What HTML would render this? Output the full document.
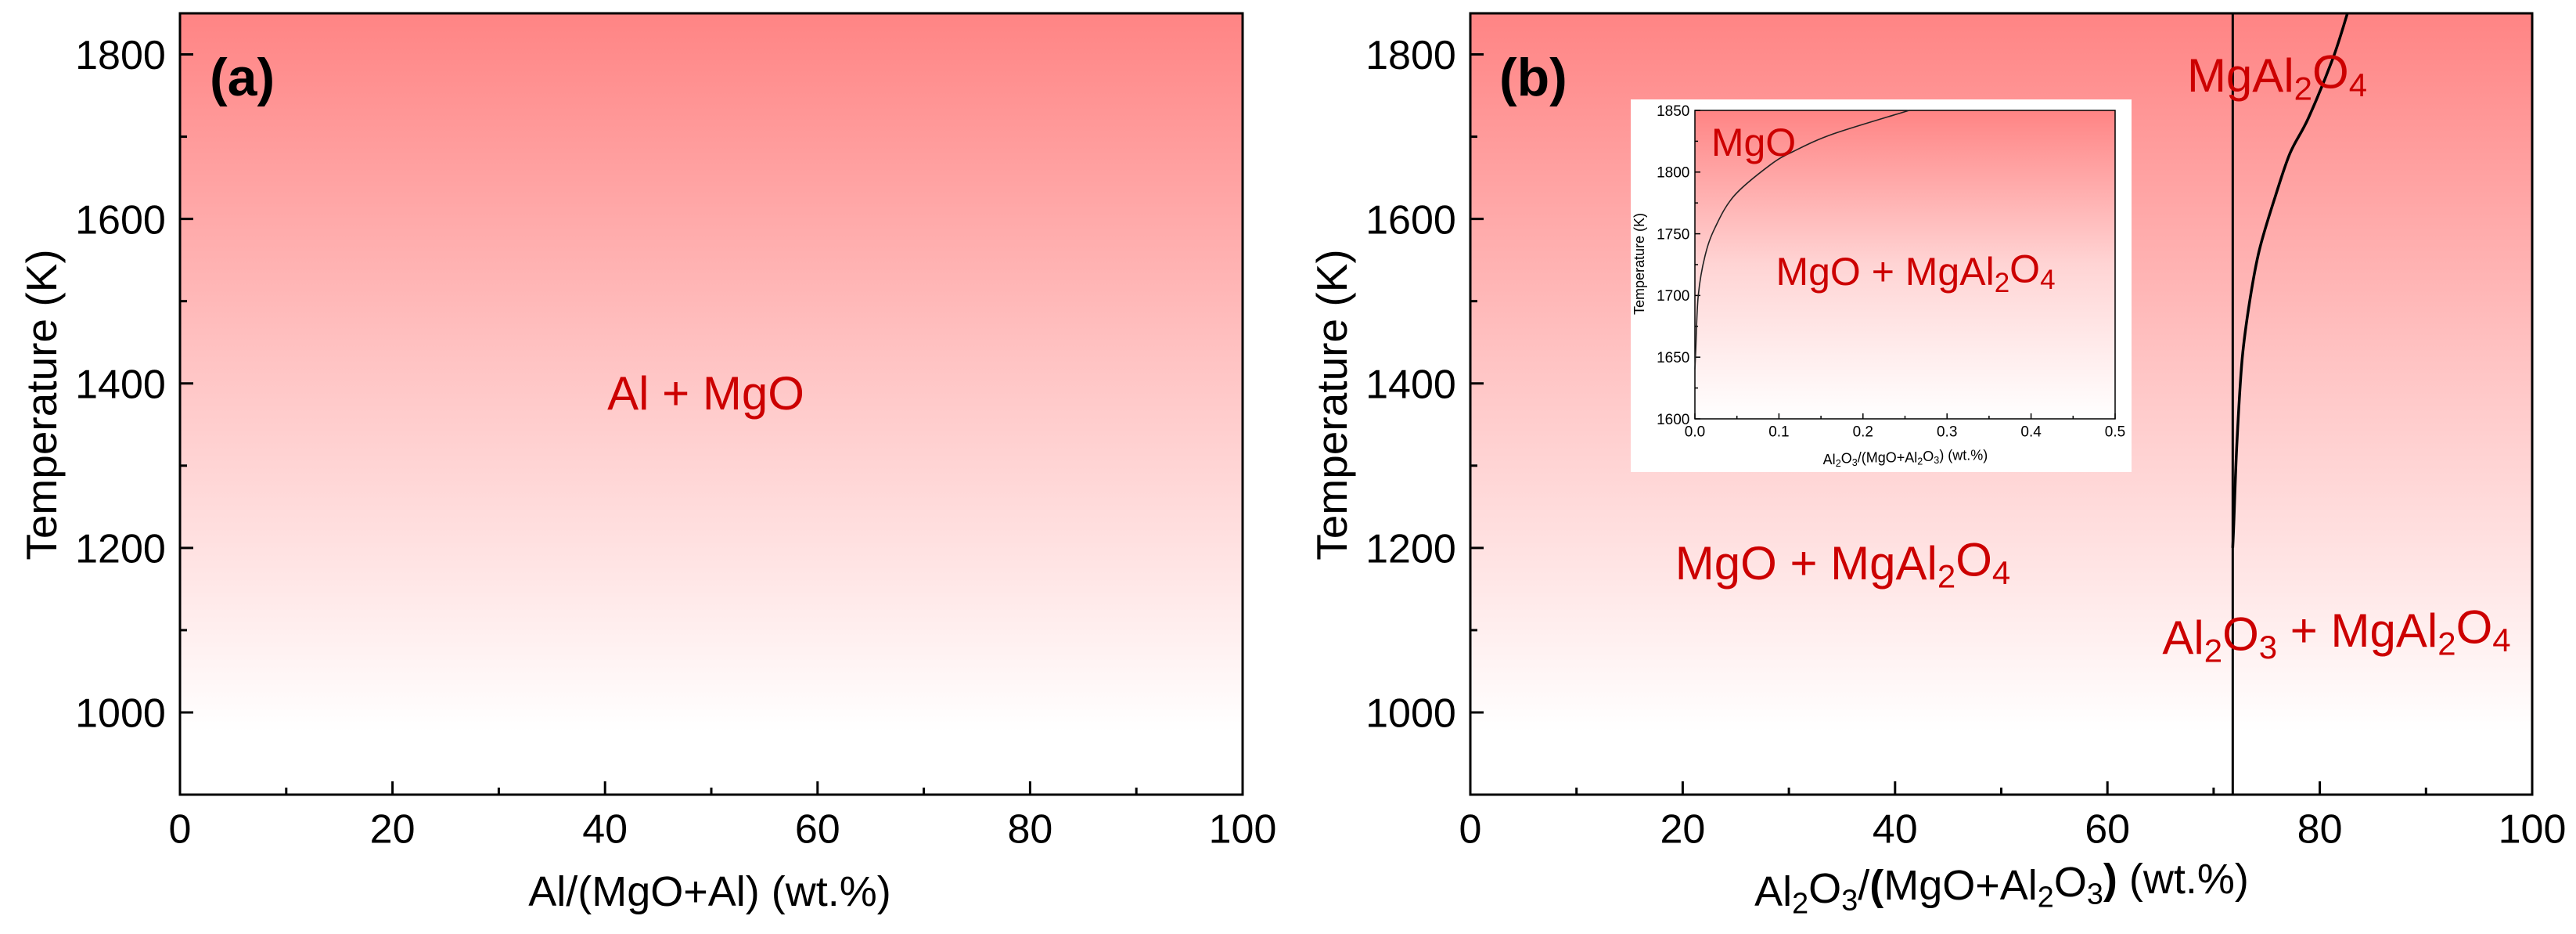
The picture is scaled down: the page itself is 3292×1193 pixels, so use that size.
<!DOCTYPE html>
<html><head><meta charset="utf-8"><style>
html,body{margin:0;padding:0;background:#fff}
svg{display:block;font-family:"Liberation Sans",Arial,sans-serif}
</style></head><body>
<svg id="fig" width="3292" height="1193" viewBox="0 0 3292 1193" xmlns="http://www.w3.org/2000/svg">
<defs>
<linearGradient id="bg" x1="0" y1="0" x2="0" y2="1">
<stop offset="0" stop-color="#ff8484"/><stop offset="0.45" stop-color="#ffc4c4"/><stop offset="0.92" stop-color="#ffffff"/><stop offset="1" stop-color="#ffffff"/>
</linearGradient>
<linearGradient id="bg2" x1="0" y1="0" x2="0" y2="1">
<stop offset="0" stop-color="#ff8484"/><stop offset="0.5" stop-color="#ffd4d4"/><stop offset="1" stop-color="#ffffff"/>
</linearGradient>
</defs>
<g id="layer"></g>
</svg>
<script>
const xTicks=[0,20,40,60,80,100];
const yTicks=[1000,1200,1400,1600,1800];
const liquidusX=[71.8,71.9,72.2,72.7,73.4,74.3,75.8,77.2,78.9,81.2,82.6];
const liquidusT=[1200,1230,1330,1431,1500,1562,1627,1680,1722,1794,1850];
const spinelX=71.8;
const insetXTicks=[0,0.1,0.2,0.3,0.4,0.5];
const insetYTicks=[1600,1650,1700,1750,1800,1850];
const insetCurveX=[0,0.001,0.004,0.012,0.024,0.047,0.09,0.118,0.165,0.255];
const insetCurveT=[1640,1656,1700,1732,1755,1781,1806,1817,1831,1850];

const NS="http://www.w3.org/2000/svg";
const root=document.getElementById('layer');
function mk(tag,attrs,parent){const e=document.createElementNS(NS,tag);for(const k in attrs)e.setAttribute(k,attrs[k]);(parent||root).appendChild(e);return e;}
function smooth(pts){
  let d='M'+pts[0][0].toFixed(1)+' '+pts[0][1].toFixed(1);
  for(let i=0;i<pts.length-1;i++){
    const p0=pts[Math.max(0,i-1)],p1=pts[i],p2=pts[i+1],p3=pts[Math.min(pts.length-1,i+2)];
    const c1=[p1[0]+(p2[0]-p0[0])/6,p1[1]+(p2[1]-p0[1])/6];
    const c2=[p2[0]-(p3[0]-p1[0])/6,p2[1]-(p3[1]-p1[1])/6];
    d+='C'+c1[0].toFixed(1)+' '+c1[1].toFixed(1)+' '+c2[0].toFixed(1)+' '+c2[1].toFixed(1)+' '+p2[0].toFixed(1)+' '+p2[1].toFixed(1);
  }
  return d;
}

function panel(L,R,T,B,xmin,xmax,ymin,ymax,xt,yt,id,fs,majL,minL,sw,xfmt,yfmt,xminor,yminor,grad){
  const sx=v=>L+(v-xmin)/(xmax-xmin)*(R-L);
  const sy=v=>B-(v-ymin)/(ymax-ymin)*(B-T);
  const g=mk('g',{});
  
  
  const bg=mk('rect',{x:L,y:T,width:R-L,height:B-T,fill:'url(#'+grad+')'},g);
  
  
  for(let i=0;i<xt.length;i++){
    const x=sx(xt[i]);
    const t=mk('line',{x1:x,x2:x,y1:B,y2:B-majL,stroke:'#000','stroke-width':sw},g);
    
    
    const lb=mk('text',{x:x,y:B+fs*1.18,'font-size':fs,'text-anchor':'middle',fill:'#000'},g);
    lb.textContent=xfmt(xt[i]);
    
    
    if(i<xt.length-1){const xm=sx((xt[i]+xt[i+1])/2);
      const m=mk('line',{x1:xm,x2:xm,y1:B,y2:B-minL,stroke:'#000','stroke-width':sw},g);
      
      }
  }
  for(let i=0;i<yt.length;i++){
    const y=sy(yt[i]);
    const t=mk('line',{x1:L,x2:L+majL,y1:y,y2:y,stroke:'#000','stroke-width':sw},g);
    
    
    const lb=mk('text',{x:L-fs*0.35,y:y+fs*0.36,'font-size':fs,'text-anchor':'end',fill:'#000'},g);
    lb.textContent=yfmt(yt[i]);
    
    
  }
  for(const v of yminor){const y=sy(v);
    const m=mk('line',{x1:L,x2:L+minL,y1:y,y2:y,stroke:'#000','stroke-width':sw},g);
    
    }
  const fr=mk('rect',{x:L,y:T,width:R-L,height:B-T,fill:'none',stroke:'#000','stroke-width':sw},g);
  
  
  return {sx,sy,g};
}
function txt(x,y,fs,html,name,extra){
  const t=mk('text',Object.assign({x:x,y:y,'font-size':fs,fill:'#cc0000','text-anchor':'middle'},extra||{}));
  t.innerHTML=html;
  
  
  return t;
}
const sub=(s)=>'<tspan dy="0.25em" font-size="0.7em">'+s+'</tspan><tspan dy="-0.25em">\u200B</tspan>';

const yMin=[900,1100,1300,1500,1700];
const A=panel(230,1588,17,1015,0,100,900,1850,xTicks,yTicks,'panel-a',52,17,9,3,v=>v,v=>v,[],yMin,'bg');
const Bp=panel(1879,3236,17,1015,0,100,900,1850,xTicks,yTicks,'panel-b',52,17,9,3,v=>v,v=>v,[],yMin,'bg');

const vl=mk('line',{x1:Bp.sx(spinelX),x2:Bp.sx(spinelX),y1:Bp.sy(1850),y2:Bp.sy(900),stroke:'#000','stroke-width':3});


const mainPts=liquidusX.map((v,i)=>[Bp.sx(v),Bp.sy(liquidusT[i])]);
const cv=mk('path',{d:smooth(mainPts),fill:'none',stroke:'#000','stroke-width':3.5});



function axT(x,y,fs,html,name,rot){const t=mk('text',{x:x,y:y,'font-size':fs,'text-anchor':'middle',fill:'#000',transform:rot?('rotate(-90 '+x+' '+y+')'):''});t.innerHTML=html;return t;}
axT(907,1157,54,'Al/(MgO+Al) (wt.%)','panel-a-x-axis-title');
axT(2558,1157,54,'Al'+sub('2')+'O'+sub('3')+'/<tspan font-weight="bold">(</tspan>MgO+Al'+sub('2')+'O'+sub('3')+'<tspan font-weight="bold">)</tspan> (wt.%)','panel-b-x-axis-title');
axT(72,517,55,'Temperature (K)','panel-a-y-axis-title',true);
axT(1721,517,55,'Temperature (K)','panel-b-y-axis-title',true);

const ta=mk('text',{x:268,y:122,'font-size':68,'font-weight':'bold',fill:'#000'});ta.textContent='(a)';

const tb=mk('text',{x:1916,y:122,'font-size':68,'font-weight':'bold',fill:'#000'});tb.textContent='(b)';


txt(902,523,60,'Al + MgO','region-label-al-mgo');
txt(2910,117,60,'MgAl'+sub('2')+'O'+sub('4'),'region-label-spinel');
txt(2355,740,60,'MgO + MgAl'+sub('2')+'O'+sub('4'),'region-label-mgo-spinel');
txt(2986,835,60,'Al'+sub('2')+'O'+sub('3')+' + MgAl'+sub('2')+'O'+sub('4'),'region-label-alumina-spinel');

const ib=mk('rect',{x:2084,y:127,width:640,height:476,fill:'#fff'});

const I=panel(2166,2703,141,535,0,0.5,1600,1850,insetXTicks,insetYTicks,'inset',19,7,4,1.5,v=>v.toFixed(1),v=>v,[],[1625,1675,1725,1775,1825],'bg2');
const insetPts=insetCurveX.map((v,i)=>[I.sx(v),I.sy(insetCurveT[i])]);
const ic=mk('path',{d:smooth(insetPts),fill:'none',stroke:'#222','stroke-width':1.6});

axT(2435,593,18,'Al'+sub('2')+'O'+sub('3')+'/(MgO+Al'+sub('2')+'O'+sub('3')+') (wt.%)','inset-x-axis-title');
axT(2101,337,18,'Temperature (K)','inset-y-axis-title',true);
txt(2241,199,50,'MgO','inset-label-mgo');
txt(2448,364,50,'MgO + MgAl'+sub('2')+'O'+sub('4'),'inset-label-mgo-spinel');
</script>
</body></html>
